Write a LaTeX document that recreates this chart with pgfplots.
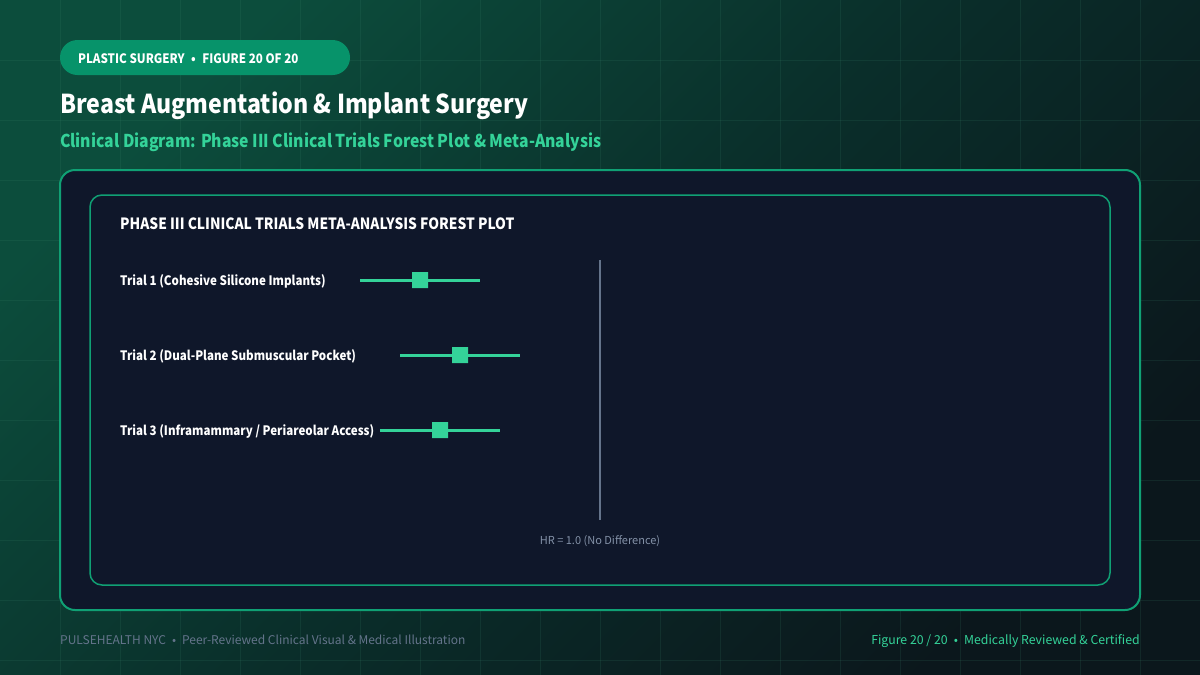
\documentclass[border=0pt]{standalone}
\usepackage{fontspec}
\setmainfont{Noto Sans CJK KR}
\newfontfamily\nar[FakeStretch=0.89]{Noto Sans CJK KR}
\usepackage{pgfplots}
\usepackage{pgfplotstable}
\pgfplotsset{compat=1.18}
\definecolor{bgA}{HTML}{0C4D3C}
\definecolor{bgM}{HTML}{0A2E2A}
\definecolor{bgB}{HTML}{0B171C}
\definecolor{panel}{HTML}{0F172A}
\definecolor{accent}{HTML}{34D399}
\definecolor{pill}{HTML}{07936A}
\definecolor{border}{HTML}{10A074}
\definecolor{slate}{HTML}{64748B}
\definecolor{slatel}{HTML}{8391A7}
\definecolor{gridc}{HTML}{3C8A70}
\newcommand\fs[1]{\fontsize{#1}{#1}\selectfont}
\pgfdeclareplotmark{rsq}{%
  \pgfsetcornersarced{\pgfpoint{3pt}{3pt}}%
  \pgfpathmoveto{\pgfqpoint{-\pgfplotmarksize}{0pt}}%
  \pgfpathlineto{\pgfqpoint{-\pgfplotmarksize}{-\pgfplotmarksize}}%
  \pgfpathlineto{\pgfqpoint{\pgfplotmarksize}{-\pgfplotmarksize}}%
  \pgfpathlineto{\pgfqpoint{\pgfplotmarksize}{\pgfplotmarksize}}%
  \pgfpathlineto{\pgfqpoint{-\pgfplotmarksize}{\pgfplotmarksize}}%
  \pgfpathclose
  \pgfusepathqfill}
\pgfplotstableread{
trial hr em ep
1 0.55 0.15 0.15
2 0.65 0.15 0.15
3 0.60 0.15 0.15
}\trials
\begin{document}
\begin{tikzpicture}[x=1pt,y=-1pt]
\useasboundingbox (0,0) rectangle (1200,675);
\shade[shading=axis, top color=bgA, bottom color=bgB, middle color=bgM, shading angle=45] (0,0) rectangle (1200,675);
\foreach \x in {60,120,...,1140} \draw[gridc, opacity=0.15, line width=0.8] (\x,0) -- (\x,675);
\foreach \y in {60,120,...,660} \draw[gridc, opacity=0.15, line width=0.8] (0,\y) -- (1200,\y);
% header
\fill[pill, rounded corners=17.5] (60,40) rectangle (350,75);
\node[anchor=base west, white, font=\nar\fs{13}\bfseries, inner sep=0] at (78,63) {PLASTIC SURGERY\enspace•\enspace FIGURE 20 OF 20};
\node[anchor=base west, white, font=\nar\fs{26}\bfseries, inner sep=0] at (60,113) {Breast Augmentation \& Implant Surgery};
\node[anchor=base west, accent, font=\nar\fs{17.7}\bfseries, inner sep=0] at (60,147) {Clinical Diagram: Phase III Clinical Trials Forest Plot \& Meta-Analysis};
% panels
\filldraw[fill=panel, draw=border, line width=2, rounded corners=15] (60,170) rectangle (1140,610);
\filldraw[fill=panel, draw=border, line width=1.5, rounded corners=12] (90,195) rectangle (1110,585);
\node[anchor=base west, white, font=\nar\fs{15.5}\bfseries, inner sep=0] at (120,229) {PHASE III CLINICAL TRIALS META-ANALYSIS FOREST PLOT};
\node[anchor=base west, white, font=\nar\fs{13}\bfseries, inner sep=0] at (120,285) {Trial 1 (Cohesive Silicone Implants)};
\node[anchor=base west, white, font=\nar\fs{13}\bfseries, inner sep=0] at (120,360) {Trial 2 (Dual-Plane Submuscular Pocket)};
\node[anchor=base west, white, font=\nar\fs{13}\bfseries, inner sep=0] at (120,435) {Trial 3 (Inframammary / Periareolar Access)};
\node[anchor=base, slatel, font=\fs{11}, inner sep=0] at (600,544) {HR = 1.0 (No Difference)};
% footer
\node[anchor=base west, slate, font=\fs{12}, inner sep=0] at (60,644) {PULSEHEALTH NYC\enspace•\enspace Peer-Reviewed Clinical Visual \& Medical Illustration};
\node[anchor=base east, accent, font=\fs{12.3}, inner sep=0] at (1140,644) {Figure 20 / 20\enspace•\enspace Medically Reviewed \& Certified};
\coordinate (fa) at (300,520);
% forest plot
\begin{axis}[at={(fa)}, anchor=south west, scale only axis, width=600pt, height=260pt,
  xmin=0.25, xmax=1.75, ymin=0.733333, ymax=4.2, y dir=reverse, hide axis, clip=false]
\addplot[draw=slate, line width=2pt] coordinates {(1,0.733333) (1,4.2)};
\addplot[only marks, mark=rsq, mark size=8pt, color=accent,
  mark options={fill=accent},
  error bars/.cd, x dir=both, x explicit, error mark=none,
  error bar style={line width=3pt, color=accent}]
  table[x=hr, y=trial, x error minus=em, x error plus=ep] {\trials};
\end{axis}
\end{tikzpicture}
\end{document}
